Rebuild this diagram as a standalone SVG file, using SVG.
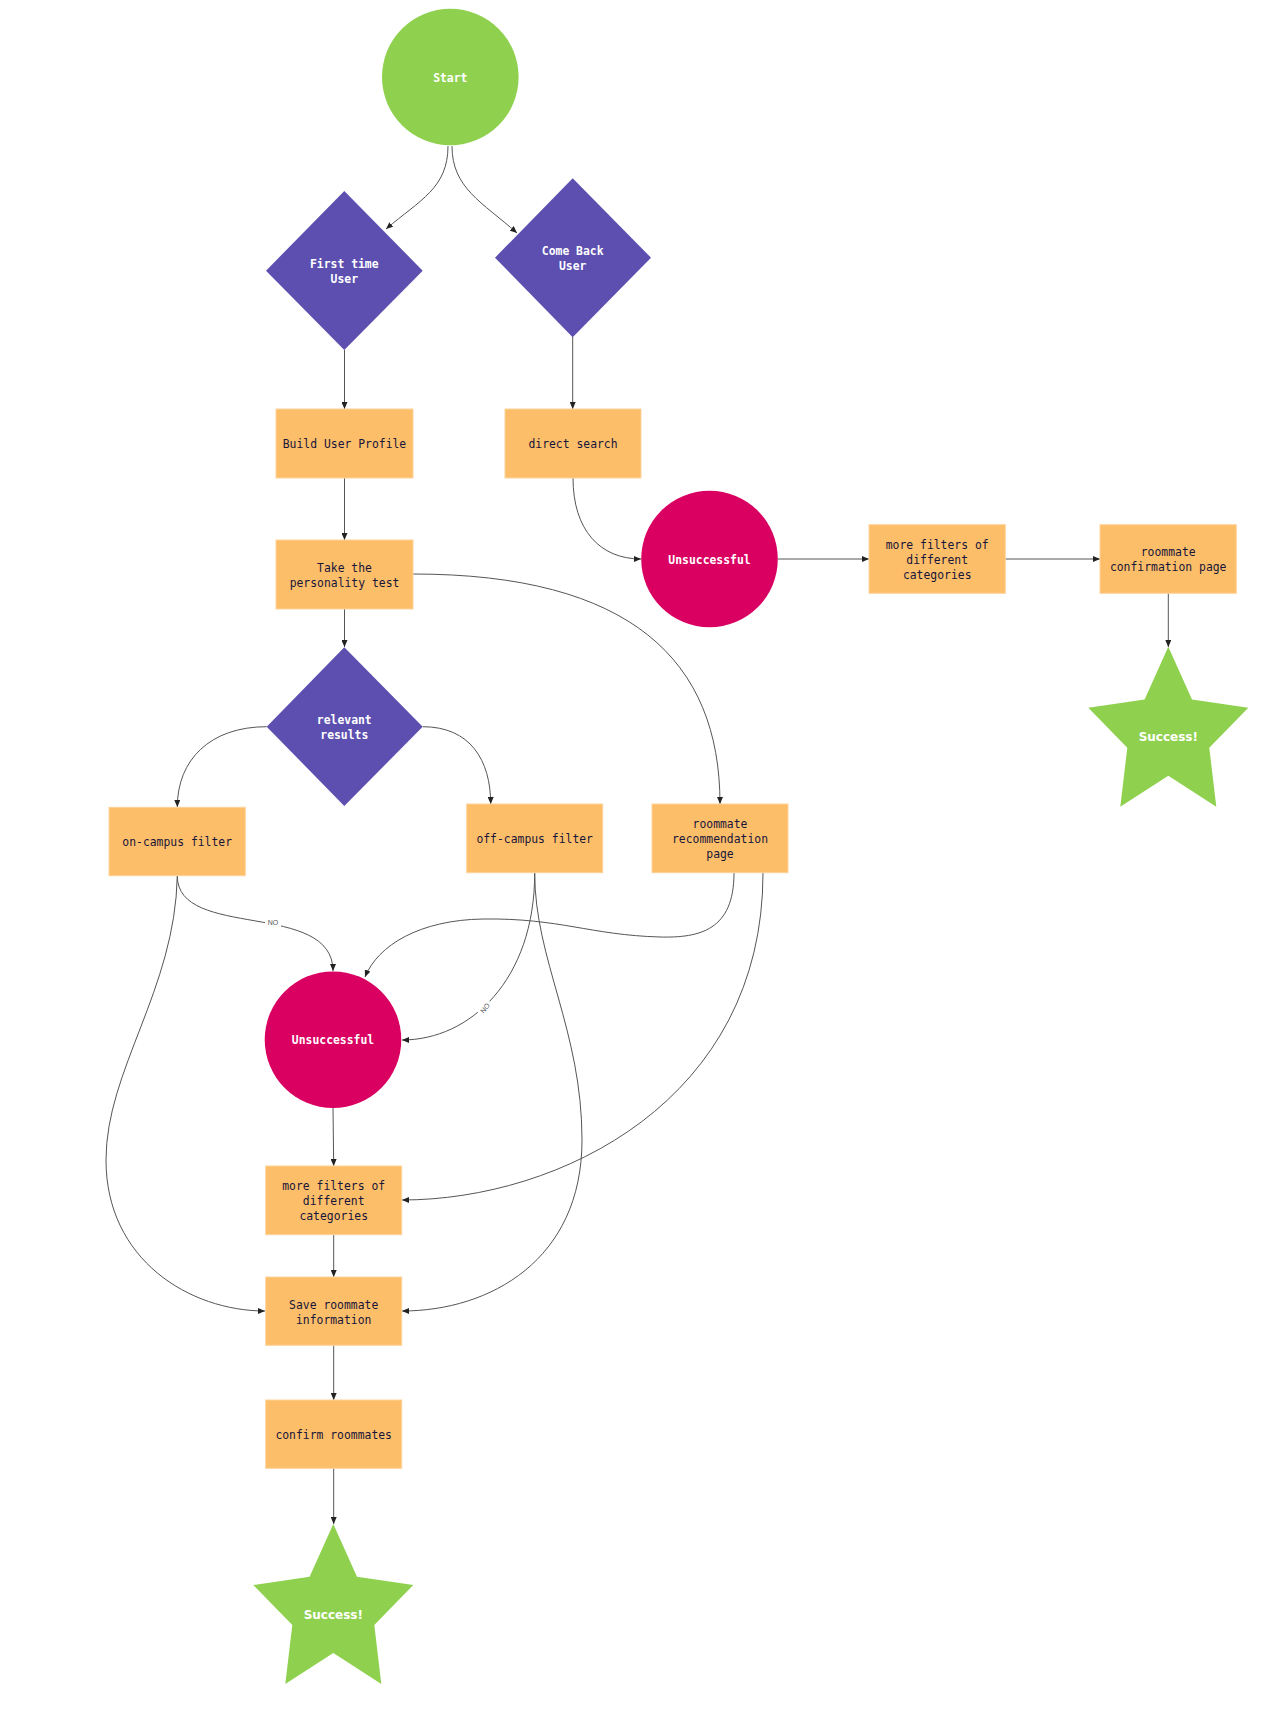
<svg xmlns="http://www.w3.org/2000/svg" width="1286" height="1712" viewBox="0 0 1286 1712">
<style>
.box{fill:#fdbe69;stroke:#fdd39a;stroke-width:1}
.dia{fill:#5c4fb0}
.red{fill:#da0062}
.grn{fill:#8fd14f}
.t{font-family:"DejaVu Sans Mono","Liberation Mono",monospace;font-size:11.4px;text-anchor:middle;dominant-baseline:central}
.dk{fill:#17153a}
.wt{fill:#ffffff;font-weight:bold}
.st{font-family:"DejaVu Sans","Liberation Sans",sans-serif;font-size:12px;font-weight:bold;fill:#ffffff;text-anchor:middle;dominant-baseline:central}
.e{fill:none;stroke:#555;stroke-width:1;marker-end:url(#ar)}
.lb{font-family:"Liberation Sans",sans-serif;font-size:7px;fill:#555;text-anchor:middle;dominant-baseline:central}
</style>
<defs>
<marker id="ar" markerWidth="7" markerHeight="6" refX="7" refY="3" orient="auto" markerUnits="userSpaceOnUse">
<path d="M0,0 L7,3 L0,6 z" fill="#222"/>
</marker>
<polygon id="star" points="0,0 23.7,52.7 80,61 41,101 48,160 0,129 -48,160 -41,101 -80,61 -23.7,52.7"/>
</defs>
<rect width="1286" height="1712" fill="#ffffff"/>

<g id="connectors">
<path class="e" d="M448,146 C448,188 420,200 386,229"/>
<path class="e" d="M452,146 C452,188 482,202 517,233"/>
<path class="e" d="M344.5,350 L344.5,409"/>
<path class="e" d="M572.7,337 L572.7,409"/>
<path class="e" d="M344.5,478 L344.5,540"/>
<path class="e" d="M344.5,609 L344.5,647"/>
<path class="e" d="M573,478 C573,530 600,559 641,559"/>
<path class="e" d="M778,559 L869,559"/>
<path class="e" d="M1005,559 L1100,559"/>
<path class="e" d="M1168.3,593 L1168.3,647"/>
<path class="e" d="M413,574 C630,574 720,660 720,804"/>
<path class="e" d="M266.7,726.7 C210,726.7 177.3,760 177.3,807"/>
<path class="e" d="M422.7,726.7 C470,726.7 490.7,760 490.7,804"/>
<path class="e" d="M177.3,876 C177.3,940 333,900 333,971"/>
<path class="e" d="M534.7,873 C534.7,980 470,1040 402,1040"/>
<path class="e" d="M734,873 C734,930 700,938 660,937 C590,935 560,918 483,919 C420,920 378,945 365,977"/>
<path class="e" d="M763,873 C763,1100 560,1200 402,1200"/>
<path class="e" d="M333,1108 L333.7,1166"/>
<path class="e" d="M177.3,876 C175,990 106,1070 106,1160 C106,1260 190,1311 265,1311"/>
<path class="e" d="M534.7,873 C534.7,960 582,1030 582,1140 C582,1260 490,1311 402,1311"/>
<path class="e" d="M333.7,1235 L333.7,1277"/>
<path class="e" d="M333.7,1345 L333.7,1400"/>
<path class="e" d="M333.7,1468 L333.7,1524"/>
<rect x="265" y="918" width="16" height="9" fill="#ffffff"/>
<text class="lb" x="273" y="922.7">NO</text>
<g transform="translate(485,1008) rotate(-50)">
<rect x="-8" y="-4.5" width="16" height="9" fill="#ffffff"/>
<text class="lb" x="0" y="0">NO</text>
</g>
</g>

<g id="start"><circle class="grn" cx="450.3" cy="77" r="68.3"/><text class="t wt" x="450.3" y="77.5">Start</text></g>
<g id="first-time"><polygon class="dia" points="344.3,191 422.7,270.7 344.3,350 266,270.7"/><text class="t wt" x="344.3" y="264">First time</text><text class="t wt" x="344.3" y="279">User</text></g>
<g id="come-back"><polygon class="dia" points="572.7,178.3 651,257.7 572.7,337.3 495,257.7"/><text class="t wt" x="572.7" y="250.7">Come Back</text><text class="t wt" x="572.7" y="266">User</text></g>
<g id="build-profile"><rect class="box" x="276" y="409" width="137" height="69"/><text class="t dk" x="344.5" y="444">Build User Profile</text></g>
<g id="direct-search"><rect class="box" x="505" y="409" width="136" height="69"/><text class="t dk" x="573" y="444">direct search</text></g>
<g id="personality"><rect class="box" x="276" y="540" width="137" height="69"/><text class="t dk" x="344.5" y="567.5">Take the</text><text class="t dk" x="344.5" y="582.5">personality test</text></g>
<g id="unsuccessful-1"><circle class="red" cx="709.5" cy="559" r="68.3"/><text class="t wt" x="709.5" y="559.5">Unsuccessful</text></g>
<g id="more-filters-1"><rect class="box" x="869" y="524.7" width="136.3" height="68.6"/><text class="t dk" x="937.2" y="545">more filters of</text><text class="t dk" x="937.2" y="560">different</text><text class="t dk" x="937.2" y="575">categories</text></g>
<g id="confirmation-page"><rect class="box" x="1100" y="524.7" width="136.3" height="68.6"/><text class="t dk" x="1168.2" y="552">roommate</text><text class="t dk" x="1168.2" y="567">confirmation page</text></g>
<g id="success-1"><use href="#star" class="grn" transform="translate(1168.3,646.7)"/><text class="st" x="1168.3" y="737">Success!</text></g>
<g id="relevant"><polygon class="dia" points="344.3,647.3 422.7,726.7 344.3,806 266.7,726.7"/><text class="t wt" x="344.3" y="720">relevant</text><text class="t wt" x="344.3" y="735">results</text></g>
<g id="on-campus"><rect class="box" x="109" y="807.3" width="136.3" height="68.4"/><text class="t dk" x="177.2" y="842">on-campus filter</text></g>
<g id="off-campus"><rect class="box" x="466.7" y="804" width="136" height="68.7"/><text class="t dk" x="534.7" y="839">off-campus filter</text></g>
<g id="recommendation"><rect class="box" x="652" y="804" width="136" height="68.7"/><text class="t dk" x="720" y="824">roommate</text><text class="t dk" x="720" y="839">recommendation</text><text class="t dk" x="720" y="854">page</text></g>
<g id="unsuccessful-2"><circle class="red" cx="333" cy="1039.7" r="68.3"/><text class="t wt" x="333" y="1040">Unsuccessful</text></g>
<g id="more-filters-2"><rect class="box" x="265.7" y="1166" width="136" height="68.7"/><text class="t dk" x="333.7" y="1186">more filters of</text><text class="t dk" x="333.7" y="1201">different</text><text class="t dk" x="333.7" y="1216">categories</text></g>
<g id="save"><rect class="box" x="265.7" y="1277" width="136" height="68.3"/><text class="t dk" x="333.7" y="1304.5">Save roommate</text><text class="t dk" x="333.7" y="1319.5">information</text></g>
<g id="confirm"><rect class="box" x="265.7" y="1400" width="136" height="68.3"/><text class="t dk" x="333.7" y="1435">confirm roommates</text></g>
<g id="success-2"><use href="#star" class="grn" transform="translate(333.3,1524)"/><text class="st" x="333.3" y="1615">Success!</text></g>
</svg>
